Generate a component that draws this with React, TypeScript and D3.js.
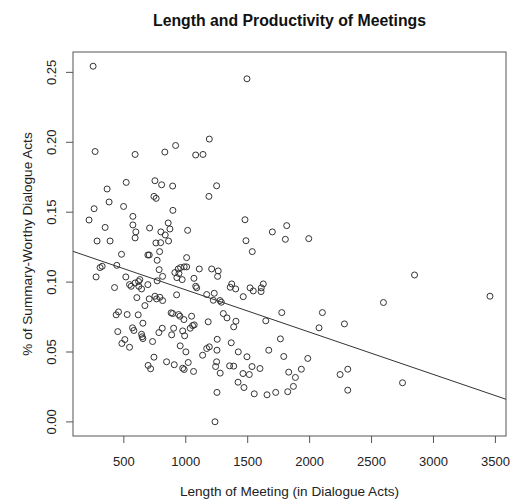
import React from "react";
import * as d3 from "d3";

const meetingLength: number[] = [
  252, 268, 591, 831, 918, 1080, 1139, 1190, 1494, 519, 751, 805, 894, 1249, 365, 1187, 743, 761, 381, 498,
  260, 896, 573, 219, 858, 573, 349, 708, 872, 1015, 597, 799, 834, 591, 284, 389, 861, 759, 797, 789,
  481, 694, 705, 1007, 769, 325, 308, 443, 785, 1007, 939, 958, 987, 912, 945, 1109, 1209, 1262, 276, 516,
  813, 928, 971, 1066, 1257, 629, 619, 769, 591, 546, 559, 694, 621, 643, 1080, 1088, 425, 1169, 1230, 926,
  605, 705, 751, 764, 791, 813, 670, 1478, 1815, 1699, 1804, 1993, 1486, 1537, 1371, 1359, 1403, 1519, 1545, 1626,
  1610, 1608, 1464, 1222, 1276, 1287, 1303, 1333, 1405, 1387, 1181, 1775, 1646, 2103, 2076, 2281, 1254, 1367, 1190, 1169,
  1252, 1136, 1424, 1494, 1764, 1670, 1791, 1985, 1249, 1241, 1354, 1387, 1278, 1535, 1599, 1462, 1513, 1831, 1885, 1933,
  2246, 2308, 1422, 1470, 1252, 1553, 1656, 1726, 1823, 1869, 2308, 1236, 457, 438, 527, 616, 882, 894, 942, 953,
  1047, 985, 654, 451, 570, 581, 810, 783, 902, 975, 1036, 1055, 1068, 643, 648, 654, 886, 991, 508, 732,
  484, 546, 955, 1001, 743, 845, 907, 1020, 696, 716, 975, 987, 1063, 2847, 3456, 2596, 2750,
];

const summaryShare: number[] = [
  0.2544, 0.1934, 0.1913, 0.193, 0.1977, 0.1909, 0.1913, 0.2023, 0.2454, 0.1713, 0.1725, 0.1696, 0.1687, 0.1689, 0.1666, 0.1613, 0.1613, 0.1599, 0.1573, 0.1541,
  0.1525, 0.1513, 0.147, 0.1444, 0.1423, 0.1409, 0.1391, 0.1387, 0.138, 0.137, 0.1359, 0.1359, 0.1337, 0.1316, 0.1294, 0.1294, 0.1294, 0.128, 0.1282, 0.1218,
  0.1199, 0.1194, 0.1194, 0.1175, 0.1156, 0.1113, 0.1104, 0.112, 0.1089, 0.1109, 0.1094, 0.1104, 0.1109, 0.1068, 0.1061, 0.1094, 0.1094, 0.108, 0.1037, 0.1037,
  0.1041, 0.1032, 0.1018, 0.1027, 0.1041, 0.1018, 0.1004, 0.1009, 0.0994, 0.0982, 0.097, 0.0982, 0.097, 0.0951, 0.097, 0.0959, 0.0961, 0.0911, 0.092, 0.0909,
  0.0889, 0.088, 0.0899, 0.088, 0.0891, 0.0868, 0.0832, 0.1446, 0.1404, 0.1359, 0.1306, 0.1311, 0.1296, 0.1218, 0.0987, 0.0963, 0.0951, 0.0959, 0.0937, 0.0987,
  0.0959, 0.0932, 0.0896, 0.087, 0.0868, 0.0856, 0.0775, 0.0744, 0.072, 0.068, 0.0716, 0.0782, 0.0723, 0.0782, 0.0673, 0.0701, 0.0591, 0.0566, 0.0537, 0.0525,
  0.0513, 0.0477, 0.0501, 0.0466, 0.0594, 0.0513, 0.0468, 0.0454, 0.043, 0.0396, 0.0401, 0.0399, 0.0349, 0.0396, 0.0382, 0.0346, 0.0339, 0.0356, 0.0318, 0.0377,
  0.0339, 0.0377, 0.0284, 0.0246, 0.0211, 0.0201, 0.0194, 0.0211, 0.0216, 0.0254, 0.0227, 0.0001, 0.0787, 0.0766, 0.0768, 0.0766, 0.078, 0.0775, 0.0768, 0.0756,
  0.0756, 0.0732, 0.0706, 0.0646, 0.0673, 0.0654, 0.067, 0.0639, 0.067, 0.0651, 0.067, 0.0689, 0.0694, 0.0627, 0.0609, 0.0596, 0.0623, 0.0616, 0.0589, 0.0575,
  0.0561, 0.0534, 0.0544, 0.0501, 0.0463, 0.043, 0.0409, 0.0425, 0.0404, 0.038, 0.0384, 0.0375, 0.0361, 0.1051, 0.0899, 0.0854, 0.028,
];

const xTicks: number[] = [500, 1000, 1500, 2000, 2500, 3000, 3500];
const yTicks: number[] = [0.0, 0.05, 0.1, 0.15, 0.2, 0.25];
const fitIntercept = 0.1247;
const fitSlope = -3.026e-5;

const title = "Length and Productivity of Meetings";
const xLabel = "Length of Meeting (in Dialogue Acts)";
const yLabel = "% of Summary-Worthy Dialogue Acts";

const W = 510;
const H = 501;
const left = 73;
const right = 506;
const top = 52;
const bottom = 436;

export default function App() {
  const xMin = d3.min(meetingLength)!;
  const xMax = d3.max(meetingLength)!;
  const yMin = d3.min(summaryShare)!;
  const yMax = d3.max(summaryShare)!;
  const xPad = (xMax - xMin) * 0.04;
  const yPad = (yMax - yMin) * 0.04;
  const x = d3.scaleLinear().domain([xMin - xPad, xMax + xPad]).range([left, right]);
  const y = d3.scaleLinear().domain([yMin - yPad, yMax + yPad]).range([bottom, top]);
  const [dx0, dx1] = x.domain();
  const font = "'Liberation Sans', Arial, sans-serif";
  const ink = "#222";

  return (
    <svg
      width={W}
      height={H}
      viewBox={`0 0 ${W} ${H}`}
      style={{ position: "absolute", left: 0, top: 0, background: "#fff" }}
    >
      <rect x={0} y={0} width={W} height={H} fill="#fff" />
      <text x={(left + right) / 2} y={26} textAnchor="middle" fontFamily={font} fontWeight="bold" fontSize={15.8} fill="#111">
        {title}
      </text>
      <rect x={left} y={top} width={right - left} height={bottom - top} fill="none" stroke="#555" strokeWidth={1} />
      {xTicks.map((t) => (
        <g key={"xt" + t}>
          <line x1={x(t)} x2={x(t)} y1={bottom} y2={bottom + 7} stroke="#555" />
          <text x={x(t)} y={466} textAnchor="middle" fontFamily={font} fontSize={13} fill={ink}>
            {t}
          </text>
        </g>
      ))}
      {yTicks.map((t) => (
        <g key={"yt" + t}>
          <line x1={left - 7} x2={left} y1={y(t)} y2={y(t)} stroke="#555" />
          <text
            transform={`translate(${55.5},${y(t)}) rotate(-90)`}
            textAnchor="middle"
            fontFamily={font}
            fontSize={13}
            fill={ink}
          >
            {t.toFixed(2)}
          </text>
        </g>
      ))}
      <text x={(left + right) / 2} y={496} textAnchor="middle" fontFamily={font} fontSize={13.6} fill={ink}>
        {xLabel}
      </text>
      <text
        transform={`translate(${32},${(top + bottom) / 2}) rotate(-90)`}
        textAnchor="middle"
        fontFamily={font}
        fontSize={13.6}
        fill={ink}
      >
        {yLabel}
      </text>
      <g>
        {meetingLength.map((v, i) => (
          <circle key={i} cx={x(v)} cy={y(summaryShare[i])} r={3} fill="none" stroke="#333" strokeWidth={1} />
        ))}
      </g>
      <line
        x1={x(dx0)}
        y1={y(fitIntercept + fitSlope * dx0)}
        x2={x(dx1)}
        y2={y(fitIntercept + fitSlope * dx1)}
        stroke="#333"
        strokeWidth={1}
      />
    </svg>
  );
}
